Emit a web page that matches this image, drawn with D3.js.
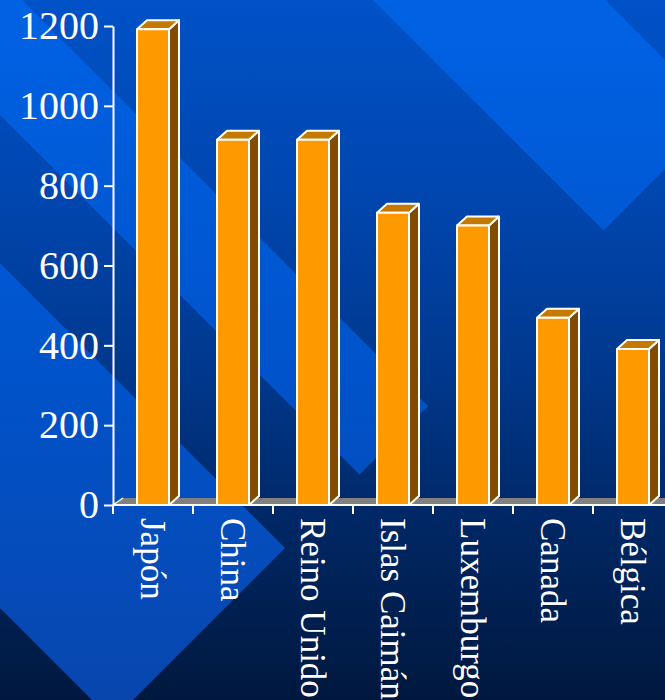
<!DOCTYPE html>
<html>
<head>
<meta charset="utf-8">
<script src="https://cdn.jsdelivr.net/npm/d3@7"></script>
<style>
  html, body { margin: 0; padding: 0; background: #001a40; }
  svg { display: block; }
</style>
</head>
<body>
<script>
// Inversión por país de origen
const categories = ["Japón", "China", "Reino Unido", "Islas Caimán", "Luxemburgo", "Canada", "Bélgica"];
const values = [1192, 915, 915, 732, 700, 469, 391];
const yTicks = [0, 200, 400, 600, 800, 1000, 1200];

const W = 665, H = 700;
const svg = d3.select("body").append("svg")
  .attr("width", W).attr("height", H)
  .style("font-family", "'Liberation Serif', 'Times New Roman', serif");

const defs = svg.append("defs");

function vGradient(id, stops) {
  const g = defs.append("linearGradient").attr("id", id)
    .attr("gradientUnits", "userSpaceOnUse")
    .attr("x1", 0).attr("y1", 0).attr("x2", 0).attr("y2", H);
  stops.forEach(([o, c]) => g.append("stop").attr("offset", o).attr("stop-color", c));
}
vGradient("bgBase", [[0, "#0052c8"], [0.3, "#0045ad"], [0.55, "#00378a"], [0.75, "#002764"], [1, "#00183e"]]);
vGradient("bgStripe", [[0, "#0062e4"], [0.5, "#0054cc"], [1, "#0846ae"]]);

// Background: vertical gradient with diagonal lighter bands cut square at x + y = cut
svg.append("rect").attr("width", W).attr("height", H).attr("fill", "url(#bgBase)");

function band(lo, hi, cut) {
  // band between y - x = lo and y - x = hi, ending at x + y = cut
  const c1 = [(cut - lo) / 2, (cut + lo) / 2];
  const c2 = [(cut - hi) / 2, (cut + hi) / 2];
  const L = 900;
  return [c1, c2, [c2[0] - L, c2[1] - L], [c1[0] - L, c1[1] - L]];
}
[[-605, -373, 834], [-22, 115, 834], [263, 608, 833]].forEach(([lo, hi, cut]) => {
  svg.append("polygon")
    .attr("points", band(lo, hi, cut).map(p => p.join(",")).join(" "))
    .attr("fill", "url(#bgStripe)");
});

// Scales
const x = d3.scaleBand().domain(categories).range([113, 673]).padding(0);
const y = d3.scaleLinear().domain([0, 1200]).range([505, 26]);
const dx = 10, dy = -9;
const barW = x.bandwidth() * 0.4;
const y0 = y(0);

// Floor
const [fx0, fx1] = x.range();
const fdy = -7;
svg.append("polygon")
  .attr("points", [[fx0, y0], [fx1, y0], [fx1 + dx, y0 + fdy], [fx0 + dx, y0 + fdy]].map(p => p.join(",")).join(" "))
  .attr("fill", "#808080");
svg.append("line")
  .attr("x1", fx0).attr("y1", y0).attr("x2", fx0 + dx).attr("y2", y0 + fdy)
  .attr("stroke", "#ffffff").attr("stroke-width", 1.5);

// 3D bars
const bars = svg.append("g").selectAll("g").data(categories.map((c, i) => ({ c, v: values[i] })))
  .join("g");

bars.each(function (d) {
  const g = d3.select(this);
  const xl = x(d.c) + (x.bandwidth() - barW) / 2;
  const xr = xl + barW;
  const yt = y(d.v);
  const poly = pts => pts.map(p => p.join(",")).join(" ");
  g.append("polygon")
    .attr("points", poly([[xr, y0], [xr, yt], [xr + dx, yt + dy], [xr + dx, y0 + dy]]))
    .attr("fill", "#7f4c00");
  g.append("polygon")
    .attr("points", poly([[xl, yt], [xr, yt], [xr + dx, yt + dy], [xl + dx, yt + dy]]))
    .attr("fill", "#c47a00");
  g.append("rect")
    .attr("x", xl).attr("y", yt).attr("width", barW).attr("height", y0 - yt)
    .attr("fill", "#ff9900");
  g.selectAll("polygon, rect")
    .attr("stroke", "#ffffff").attr("stroke-width", 2).attr("stroke-linejoin", "round");
});

// Y axis
const yAxis = svg.append("g")
  .attr("transform", `translate(${fx0},0)`)
  .call(d3.axisLeft(y).tickValues(yTicks).tickSize(9).tickSizeOuter(0).tickPadding(5).tickFormat(d3.format("d")));
yAxis.select(".domain").attr("stroke", "#ffffff").attr("stroke-width", 2);
yAxis.selectAll(".tick line").attr("stroke", "#ffffff").attr("stroke-width", 2);
yAxis.selectAll(".tick text")
  .attr("fill", "#ffffff")
  .style("font-family", "'Liberation Serif', 'Times New Roman', serif")
  .style("font-size", "40px");

// X axis: baseline, ticks at band edges, rotated labels
const xAxis = svg.append("g");
xAxis.append("line")
  .attr("x1", fx0).attr("x2", W + 20).attr("y1", y0).attr("y2", y0)
  .attr("stroke", "#ffffff").attr("stroke-width", 2);
xAxis.selectAll("line.tk").data(categories).join("line")
  .attr("class", "tk")
  .attr("x1", d => x(d)).attr("x2", d => x(d))
  .attr("y1", y0).attr("y2", y0 + 9)
  .attr("stroke", "#ffffff").attr("stroke-width", 2);
xAxis.selectAll("text").data(categories).join("text")
  .attr("transform", d => `translate(${x(d) + x.bandwidth() / 2},${y0 + 13}) rotate(90)`)
  .attr("dy", "0.35em")
  .attr("text-anchor", "start")
  .attr("fill", "#ffffff")
  .style("font-size", "35px")
  .text(d => d);
</script>
</body>
</html>
